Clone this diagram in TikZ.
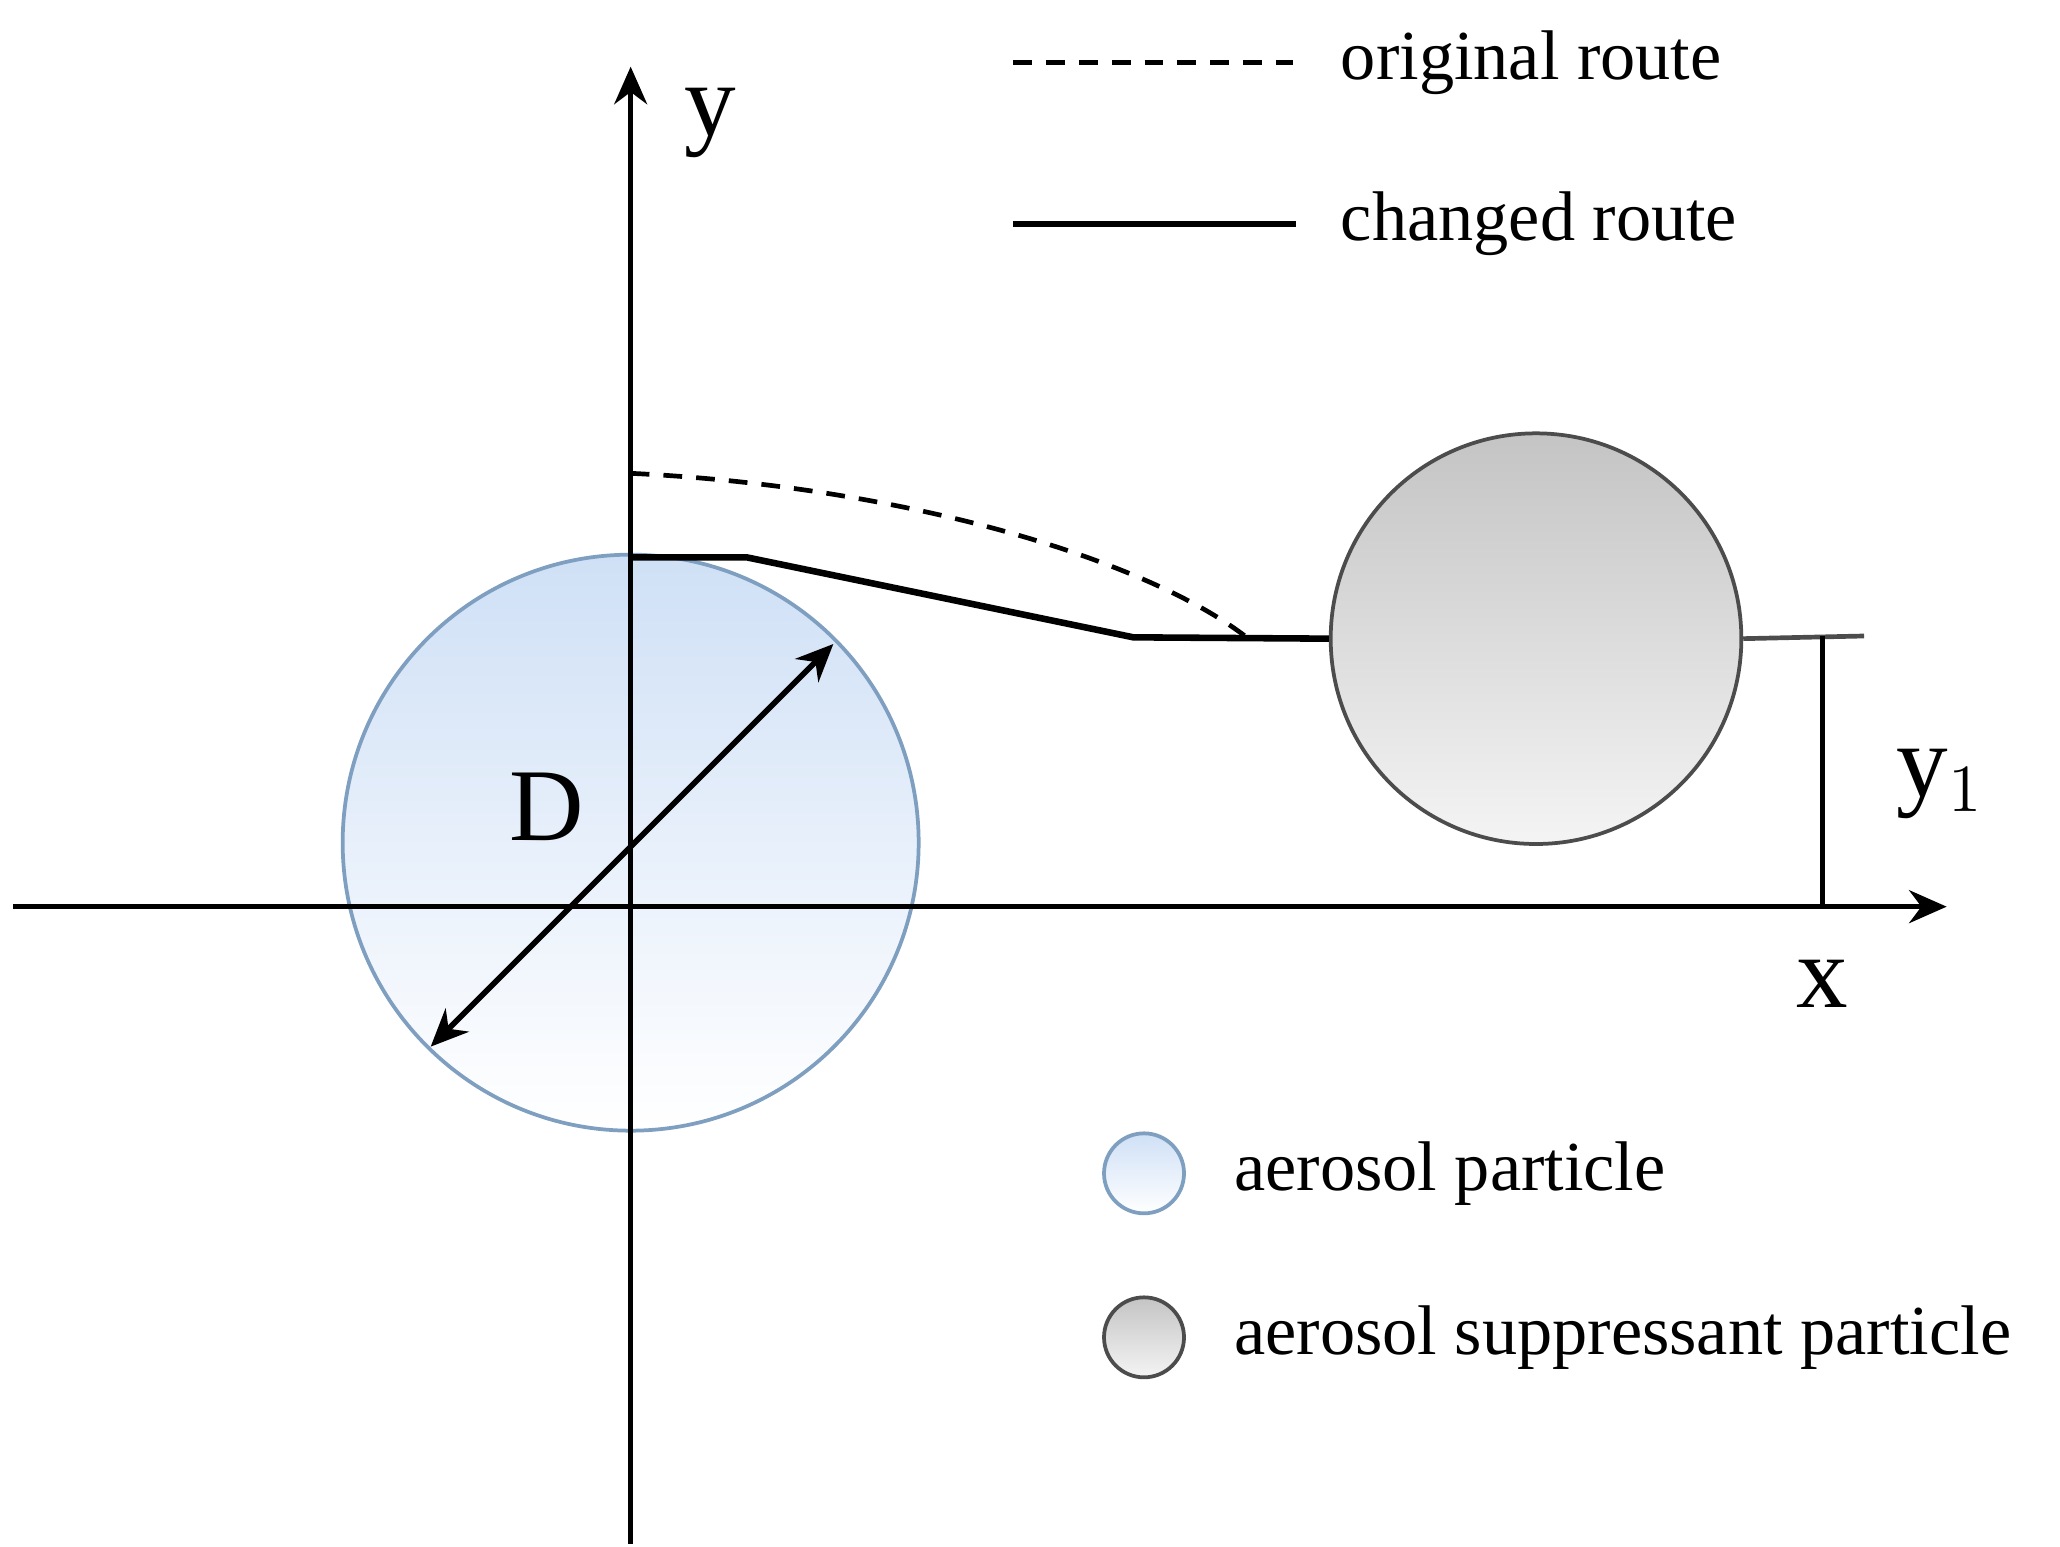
\documentclass[tikz,border=0pt]{standalone}
\usepackage{fontspec}
\setmainfont{Liberation Serif}
\usetikzlibrary{arrows.meta}
\definecolor{bluetop}{HTML}{CFE0F6}
\definecolor{blueedge}{HTML}{7F9FC0}
\definecolor{graytop}{HTML}{C4C4C4}
\definecolor{graybot}{HTML}{F4F4F4}
\tikzset{
  ax/.style={line width=1.2pt,-{Stealth[length=8pt,width=7pt]}},
  bluep/.style={draw=blueedge,line width=0.8pt,top color=bluetop,bottom color=white},
  grayp/.style={draw=black!70,line width=0.8pt,top color=graytop,bottom color=graybot},
  lbl/.style={font=\fontsize{15}{18}\selectfont,anchor=west,inner sep=0pt},
  big/.style={font=\fontsize{22}{26}\selectfont}
}
\begin{document}
\begin{tikzpicture}[x=1cm,y=1cm]
\useasboundingbox (0,0) rectangle (15.45,11.6);
% circles
\node[bluep,circle,minimum size=4.32cm,inner sep=0pt] (blue) at (4.73,5.28) {};
\node[grayp,circle,minimum size=3.08cm,inner sep=0pt] (gray) at (11.52,6.81) {};
% axes
\coordinate (xs) at (0.1,4.8); \coordinate (xe) at (14.6,4.8);
\coordinate (ys) at (4.73,0.02); \coordinate (ye) at (4.73,11.1);
\draw[ax] (xs) -- (xe);
\draw[ax] (ys) -- (ye);
\node[big] (ylab) at (5.33,10.68) {y};
\node[big] (xlab) at (13.67,4.22) {x};
\node[big] (dlab) at (4.1,5.55) {D};
\node[big] (y1lab) at (14.55,5.72) {y$_1$};
% diameter
\coordinate (d1) at (3.23,3.75); \coordinate (d2) at (6.25,6.77);
\draw[line width=1.2pt,{Stealth[length=8pt,width=7pt]}-{Stealth[length=8pt,width=7pt]}] (d1) -- (d2);
% routes
\coordinate (r0) at (4.73,8.05); \coordinate (r1) at (9.35,6.82);
\draw[dashed,line width=1pt,dash pattern=on 4pt off 3pt] (r0) .. controls (6.8,7.95) and (8.6,7.4) .. (r1);
\coordinate (s0) at (4.73,7.42); \coordinate (s1) at (9.98,6.82);
\draw[line width=1.4pt] (s0) -- (5.6,7.42) -- (8.5,6.82) -- (gray.west);
\coordinate (g1) at (13.98,6.83);
\draw[line width=1pt,black!70] (gray.east) -- (g1);
\coordinate (v0) at (13.67,6.83); \coordinate (v1) at (13.67,4.8);
\draw[line width=1pt] (v0) -- (v1);
% legend
\coordinate (l1a) at (7.6,11.13); \coordinate (l1b) at (9.7,11.13);
\draw[line width=1pt,dash pattern=on 4pt off 3pt] (l1a) -- (l1b);
\node[lbl] (t1) at (10.05,11.13) {original route};
\coordinate (l2a) at (7.6,9.92); \coordinate (l2b) at (9.72,9.92);
\draw[line width=1.4pt] (l2a) -- (l2b);
\node[lbl] (t2) at (10.05,9.92) {changed route};
\node[bluep,circle,minimum size=0.6cm,inner sep=0pt] (lb) at (8.58,2.8) {};
\node[lbl] (t3) at (9.25,2.8) {aerosol particle};
\node[grayp,circle,minimum size=0.6cm,inner sep=0pt] (lg) at (8.58,1.57) {};
\node[lbl] (t4) at (9.25,1.57) {aerosol suppressant particle};
\end{tikzpicture}
\end{document}
